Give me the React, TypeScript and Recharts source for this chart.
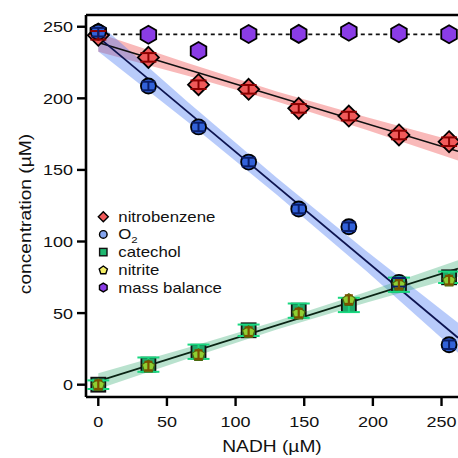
import React from 'react';
import { ComposedChart, XAxis, YAxis, Scatter, Line, Area, ErrorBar, ReferenceLine } from 'recharts';

// ---- data ----
const nadh = [0, 36.5, 73, 109.5, 146, 182.5, 219, 255.5];
const nitrobenzene = [244, 228.6, 209.5, 206.3, 193, 187.6, 174.4, 169.7];
const nitrobenzeneErr = [3, 3, 3, 3, 3, 3, 3, 3];
const oxygen = [246.2, 208.6, 180, 155.5, 122.7, 110.3, 71.5, 27.9];
const oxygenErr = [3, 3, 3, 3, 3, 3, 3, 3];
const catechol = [0, 14, 23, 38, 51.7, 55.7, 69.8, 75];
const catecholErr = [3, 5, 5, 4, 5, 5, 5, 4];
const nitrite = [0, 13, 21, 37, 50, 59.4, 70, 73];
const nitriteErr = [3, 3, 3, 3, 3, 3, 3, 3];
const massBalance = [246, 244.4, 233, 244.9, 245, 246.5, 245.4, 244.7];
const massBalanceMean = 244.7;

// fit lines (endpoints)
const fitX = [0, 262];
const nitroFit = [239, 163];
const oxygenFit = [242.7, 32.8];
const productFit = [2.5, 81.1];

// confidence bands
const bandX = [0, 65, 130, 195, 262];
const nitroBandLo = [232.5, 215.8, 197.8, 178.1, 156.5];
const nitroBandHi = [245.5, 224.6, 204.8, 186.9, 169.5];
const oxygenBandLo = [232.7, 183.6, 132.6, 79.5, 22.3];
const oxygenBandHi = [252.7, 197.6, 144.6, 93.5, 43.3];
const productBandLo = [-3, 18.2, 38.5, 57.2, 75.3];
const productBandHi = [8, 25.8, 44.5, 64.8, 86.9];

const xTicks = [0, 50, 100, 150, 200, 250];
const yTicks = [0, 50, 100, 150, 200, 250];
const xDomain = [-8.95, 262];
const yDomain = [-8.6, 258.2];

const FONT = '"Liberation Sans", Arial, Helvetica, sans-serif';

const pts = (ys: number[], errs?: number[]) =>
  nadh.map((x, i) => ({ x, y: ys[i], err: errs ? errs[i] : 0 }));
const line = (xs: number[], ys: number[]) => xs.map((x, i) => ({ x, y: ys[i] }));
const band = (lo: number[], hi: number[]) => bandX.map((x, i) => ({ x, band: [lo[i], hi[i]] }));

// ---- marker shapes ----
const poly = (cx: number, cy: number, n: number, r: number, rot: number) => {
  const p: string[] = [];
  for (let i = 0; i < n; i++) {
    const a = rot + (i * 2 * Math.PI) / n;
    p.push(`${cx + r * Math.cos(a)},${cy + r * Math.sin(a)}`);
  }
  return p.join(' ');
};

const Diamond = ({ cx, cy, r = 10.5, fill = '#f05a5a', sw = 1.8 }: any) => (
  <polygon points={poly(cx, cy, 4, r, -Math.PI / 2)} fill={fill} stroke="#000" strokeWidth={sw} />
);
const Circle = ({ cx, cy, r = 7.5, fill = '#3262d9', sw = 1.8 }: any) => (
  <circle cx={cx} cy={cy} r={r} fill={fill} stroke="#000" strokeWidth={sw} />
);
const Square = ({ cx, cy, r = 7, fill = '#1faa6a', sw = 1.8 }: any) => (
  <rect x={cx - r} y={cy - r} width={2 * r} height={2 * r} fill={fill} stroke="#111" strokeWidth={sw} />
);
const Pentagon = ({ cx, cy, r = 6.5, fill = '#8fcf32', sw = 1.2, stroke = '#4a6a10' }: any) => (
  <polygon points={poly(cx, cy + 0.5, 5, r, -Math.PI / 2)} fill={fill} stroke={stroke} strokeWidth={sw} />
);
const Hexagon = ({ cx, cy, r = 9, fill = '#8a3ce6', sw = 1.8 }: any) => (
  <polygon points={poly(cx, cy, 6, r, -Math.PI / 2)} fill={fill} stroke="#000" strokeWidth={sw} />
);
const Empty = () => <g />;

const YTick = (props: any) => {
  const { x, y, payload } = props;
  return (
    <text transform={`translate(${x},${y}) scale(1.2,1)`} textAnchor="end" dy="0.36em" fontSize={15} fontFamily={FONT} fill="#111">
      {payload.value}
    </text>
  );
};
const XTick = (props: any) => {
  const { x, y, payload } = props;
  return (
    <text transform={`translate(${x},${y}) scale(1.2,1)`} textAnchor="middle" dy="0.71em" fontSize={15} fontFamily={FONT} fill="#111">
      {payload.value}
    </text>
  );
};

const legendItems = [
  { label: 'nitrobenzene', Shape: Diamond, props: { r: 5, fill: '#f05a5a', sw: 1.4 } },
  { label: 'O2', Shape: Circle, props: { r: 3.8, fill: '#86a6f0', sw: 1.4 } },
  { label: 'catechol', Shape: Square, props: { r: 3.7, fill: '#1fb870', sw: 1.4 } },
  { label: 'nitrite', Shape: Pentagon, props: { r: 4.3, fill: '#f4ee66', sw: 1.4, stroke: '#000' } },
  { label: 'mass balance', Shape: Hexagon, props: { r: 4.4, fill: '#8a3ce6', sw: 1.4 } },
];

export default function App() {
  const axisLine = { stroke: '#000', strokeWidth: 2.6 };
  const tickLine = { stroke: '#000', strokeWidth: 2.4 };
  const EB: any = ErrorBar;
  const SC: any = Scatter;
  return (
    <div style={{ position: 'fixed', left: 0, top: 0, width: 458, height: 458, overflow: 'hidden', background: '#fff' }}>
      <ComposedChart width={458} height={458} margin={{ top: 15, right: 0, bottom: 0, left: 0 }}>
        <XAxis
          type="number"
          dataKey="x"
          domain={xDomain}
          allowDataOverflow
          ticks={xTicks}
          height={61}
          tickSize={9}
          tickMargin={10}
          axisLine={axisLine}
          tickLine={tickLine}
          tick={<XTick />}
        />
        <YAxis
          type="number"
          domain={yDomain}
          allowDataOverflow
          ticks={yTicks}
          width={86}
          tickSize={9}
          tickMargin={4}
          axisLine={axisLine}
          tickLine={tickLine}
          tick={<YTick />}
        />
        <ReferenceLine y={yDomain[1]} stroke="#000" strokeWidth={2.6} />

        <Area data={band(nitroBandLo, nitroBandHi)} dataKey="band" type="linear" stroke="none" fill="#f0504f" fillOpacity={0.4} isAnimationActive={false} />
        <Area data={band(oxygenBandLo, oxygenBandHi)} dataKey="band" type="linear" stroke="none" fill="#3a6ff0" fillOpacity={0.36} isAnimationActive={false} />
        <Area data={band(productBandLo, productBandHi)} dataKey="band" type="linear" stroke="none" fill="#2aa86a" fillOpacity={0.33} isAnimationActive={false} />

        <Line data={line(fitX, nitroFit)} dataKey="y" type="linear" stroke="#111" strokeWidth={1.7} dot={false} isAnimationActive={false} />
        <Line data={line(fitX, oxygenFit)} dataKey="y" type="linear" stroke="#0d1450" strokeWidth={1.7} dot={false} isAnimationActive={false} />
        <Line data={line(fitX, productFit)} dataKey="y" type="linear" stroke="#0a2414" strokeWidth={1.7} dot={false} isAnimationActive={false} />
        <Line data={line(fitX, [massBalanceMean, massBalanceMean])} dataKey="y" type="linear" stroke="#111" strokeWidth={1.6} strokeDasharray="4 3.5" dot={false} isAnimationActive={false} />

        <Scatter data={pts(massBalance)} dataKey="y" shape={(p: any) => <Hexagon cx={p.cx} cy={p.cy} />} isAnimationActive={false} />
        <Scatter data={pts(nitrobenzene, nitrobenzeneErr)} dataKey="y" shape={(p: any) => <Diamond cx={p.cx} cy={p.cy} />} isAnimationActive={false} />
        <Scatter data={pts(nitrobenzene, nitrobenzeneErr)} dataKey="y" shape={Empty} isAnimationActive={false}>
          <EB dataKey="err" direction="y" width={8} stroke="#8b0000" strokeWidth={2} zIndex={700} />
        </Scatter>
        <Scatter data={pts(oxygen, oxygenErr)} dataKey="y" shape={(p: any) => <Circle cx={p.cx} cy={p.cy} />} isAnimationActive={false} />
        <Scatter data={pts(oxygen, oxygenErr)} dataKey="y" shape={Empty} isAnimationActive={false}>
          <EB dataKey="err" direction="y" width={7} stroke="#0a1e6a" strokeWidth={2} zIndex={700} />
        </Scatter>
        <Scatter data={pts(catechol, catecholErr)} dataKey="y" shape={(p: any) => <Square cx={p.cx} cy={p.cy} />} isAnimationActive={false} />
        <Scatter data={pts(catechol, catecholErr)} dataKey="y" shape={Empty} isAnimationActive={false}>
          <EB dataKey="err" direction="y" width={11} stroke="#19d880" strokeWidth={2} zIndex={640} />
        </Scatter>
        <SC data={pts(nitrite, nitriteErr)} dataKey="y" shape={(p: any) => <Pentagon cx={p.cx} cy={p.cy} />} isAnimationActive={false} zIndex={660} />
        <Scatter data={pts(nitrite, nitriteErr)} dataKey="y" shape={Empty} isAnimationActive={false}>
          <EB dataKey="err" direction="y" width={4} stroke="#7a5200" strokeWidth={2.2} zIndex={700} />
        </Scatter>
      </ComposedChart>

      <svg width={458} height={458} style={{ position: 'absolute', left: 0, top: 0, pointerEvents: 'none' }}>
        {legendItems.map((it, i) => {
          const y = 216.7 + i * 17.7;
          const S = it.Shape as any;
          return (
            <g key={it.label}>
              <S cx={103.3} cy={y} {...it.props} />
              <text transform={`translate(118.3,${y}) scale(1.2,1)`} dy="0.36em" fontSize={14} fontFamily={FONT} fill="#111">
                {it.label === 'O2' ? (
                  <>
                    <tspan>O</tspan>
                    <tspan fontSize={9.5} dy={4}>2</tspan>
                  </>
                ) : (
                  it.label
                )}
              </text>
            </g>
          );
        })}
        <text transform="translate(272,452) scale(1.2,1)" textAnchor="middle" fontSize={16} fontFamily={FONT} fill="#111">
          NADH (µM)
        </text>
        <text transform="translate(25.5,214) rotate(-90) scale(1.2,1)" textAnchor="middle" dy="0.36em" fontSize={16} fontFamily={FONT} fill="#111">
          concentration (µM)
        </text>
      </svg>
    </div>
  );
}
